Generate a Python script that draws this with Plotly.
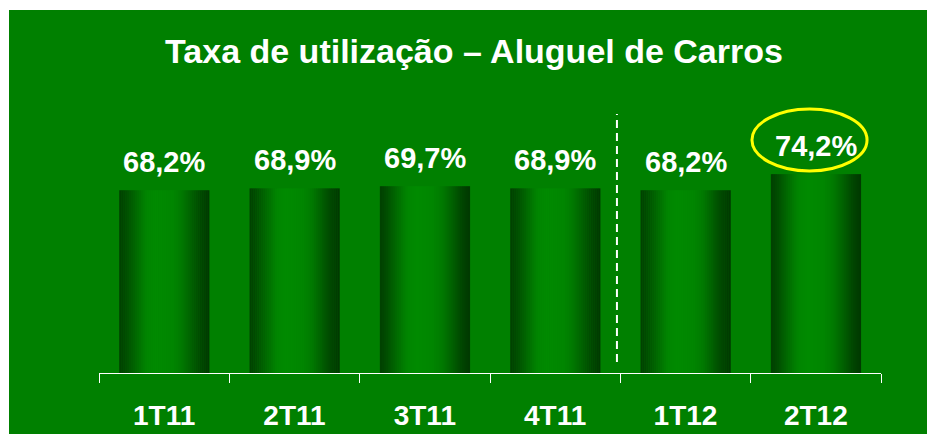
import numpy as np
import plotly.graph_objects as go

# ---- data ----
categories = ["1T11", "2T11", "3T11", "4T11", "1T12", "2T12"]
values = [68.2, 68.9, 69.7, 68.9, 68.2, 74.2]
value_labels = ["68,2%", "68,9%", "69,7%", "68,9%", "68,2%", "74,2%"]
title_text = "Taxa de utilização – Aluguel de Carros"
highlight_index = 5      # bar circled in yellow
divider_after = 3        # dashed separator between 4T11 and 1T12

# ---- layout constants ----
W, H = 935, 434
ml, mr, mt, mb = 91, 62, 97, 69
BG = "#008000"
FONT = "Liberation Sans, Arial, sans-serif"
plot_w = W - ml - mr
plot_h = H - mt - mb

# gradient profile across the bar (fraction -> green channel)
stops_t = [0.0, 0.05, 0.15, 0.30, 0.40, 0.50, 0.60, 0.70, 0.80, 0.90, 1.0]
stops_g = [0x40, 0x48, 0x60, 0x85, 0x8a, 0x88, 0x85, 0x78, 0x60, 0x48, 0x38]

bar_w = 0.69
n_strips = 46
sw = bar_w / n_strips

fig = go.Figure()
for k in range(n_strips):
    t = (k + 0.5) / n_strips
    g = int(round(np.interp(t, stops_t, stops_g)))
    fig.add_trace(go.Bar(
        x=categories, y=values,
        width=sw * 1.15, offset=-bar_w / 2 + k * sw,
        marker=dict(color=f"rgb(0,{g},0)", line=dict(width=0)),
        hoverinfo="skip", showlegend=False,
    ))

# value labels
for c, v, lab in zip(categories, values, value_labels):
    fig.add_annotation(x=c, y=v, text=lab, showarrow=False,
                       yanchor="bottom", yshift=10,
                       font=dict(family=FONT, size=29, color="white", weight="bold"))

# green panel background (thin white strip at top/left as in reference)
fig.add_shape(type="rect", xref="paper", yref="paper", layer="below",
              x0=(1 - ml) / plot_w, x1=(W - ml) / plot_w + 0.02,
              y0=-mb / plot_h - 0.02, y1=((H - mb) - 2) / plot_h,
              fillcolor=BG, line=dict(width=0))

# dashed divider
fig.add_shape(type="line", xref="x", yref="y",
              x0=divider_after + 0.474, x1=divider_after + 0.474, y0=4.1, y1=96.6,
              line=dict(color="white", width=2, dash="8px,5px"))

# yellow ellipse around the highlighted value
hv = values[highlight_index]
fig.add_shape(type="circle", xref="x", yref="y",
              x0=highlight_index - 0.49, x1=highlight_index + 0.393,
              y0=hv + 1.2, y1=hv + 24.3,
              line=dict(color="#FFFF00", width=3))

fig.update_layout(
    width=W, height=H,
    margin=dict(l=ml, r=mr, t=mt, b=mb, pad=0),
    paper_bgcolor="white", plot_bgcolor=BG,
    barmode="overlay",
    title=dict(text=title_text, x=466 / W, xanchor="center",
               y=1 - 43 / H, yanchor="middle", yref="container",
               font=dict(family=FONT, size=34, color="white", weight="bold")),
    xaxis=dict(type="category", range=[-0.5, len(categories) - 0.5],
               showline=True, linecolor="white", linewidth=1,
               ticks="outside", ticklen=9, tickcolor="white", tickwidth=1,
               tickson="boundaries", showgrid=False, zeroline=False,
               tickfont=dict(family=FONT, size=28, color="white", weight="bold"),
               ticklabelstandoff=17),
    yaxis=dict(range=[0, 100], visible=False, showgrid=False),
)

fig.write_html("out.html")
